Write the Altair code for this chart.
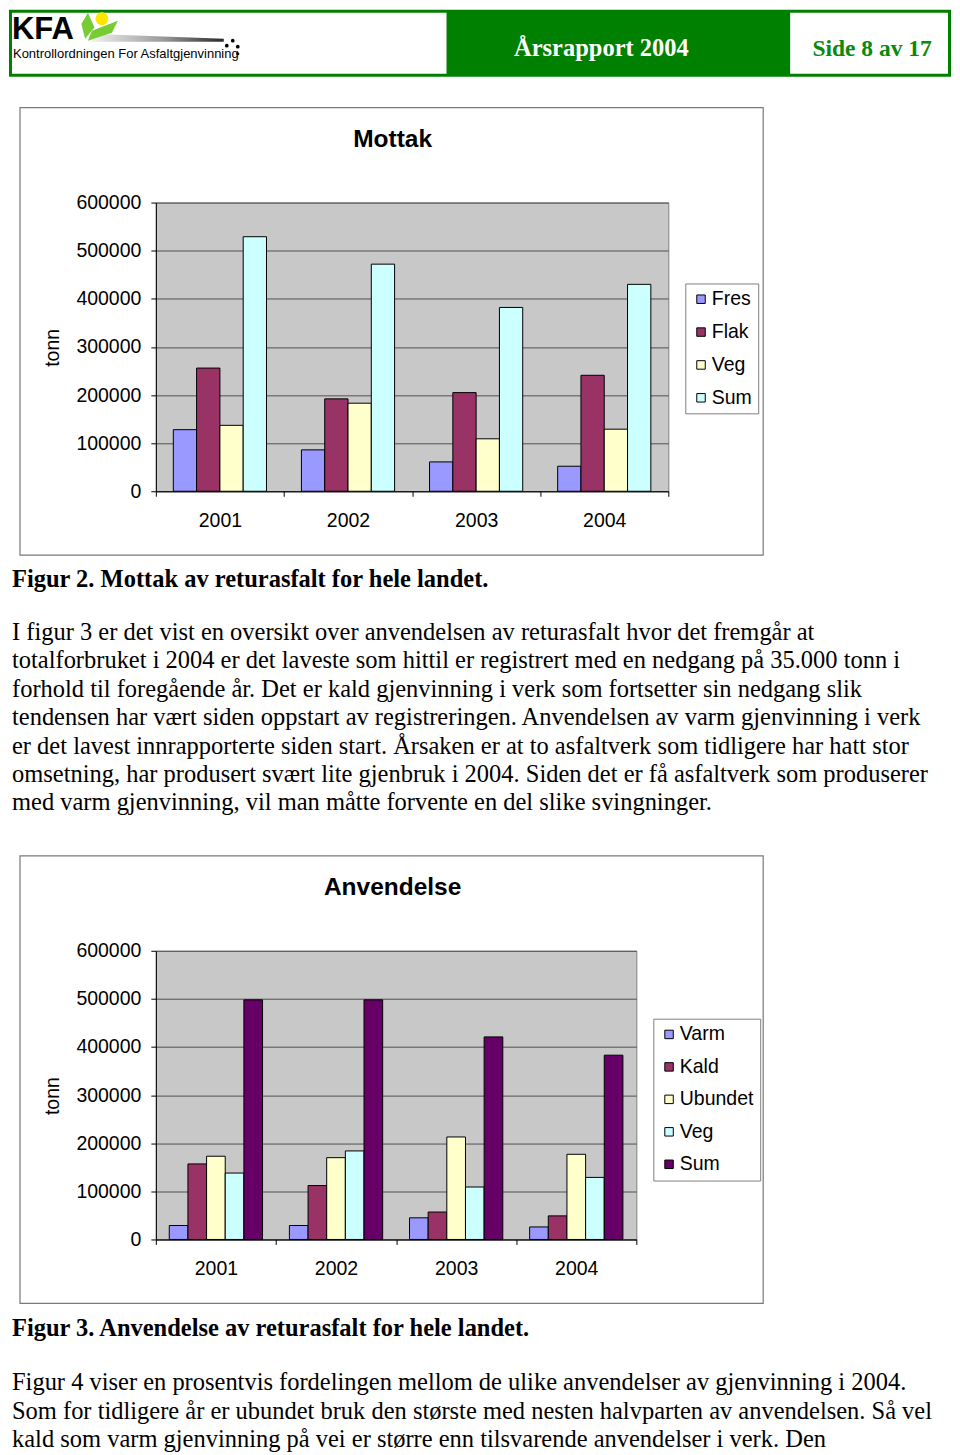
import altair as alt
import pandas as pd

# ---------------- data ----------------
YEARS = ["2001", "2002", "2003", "2004"]
Y_TICKS = [0, 100000, 200000, 300000, 400000, 500000, 600000]
Y_TITLE = "tonn"

MOTTAK_TITLE = "Mottak"
MOTTAK_SERIES = ["Fres", "Flak", "Veg", "Sum"]
MOTTAK_COLORS = ["#9999FF", "#993366", "#FFFFCC", "#CCFFFF"]
MOTTAK_FRES = [128000, 86000, 61000, 52000]
MOTTAK_FLAK = [256000, 192000, 205000, 241000]
MOTTAK_VEG = [137000, 183000, 109000, 129000]
MOTTAK_SUM = [529000, 472000, 382000, 430000]

ANV_TITLE = "Anvendelse"
ANV_SERIES = ["Varm", "Kald", "Ubundet", "Veg", "Sum"]
ANV_COLORS = ["#9999FF", "#993366", "#FFFFCC", "#CCFFFF", "#660066"]
ANV_VARM = [29000, 29000, 45000, 26000]
ANV_KALD = [157000, 112000, 57000, 49000]
ANV_UBUNDET = [173000, 170000, 213000, 177000]
ANV_VEG = [138000, 184000, 109000, 129000]
ANV_SUM = [498000, 498000, 421000, 383000]

HEADER_TITLE = "Årsrapport 2004"
HEADER_PAGE = "Side 8 av 17"
LOGO_MARK = "KFA"
LOGO_TEXT = "Kontrollordningen For Asfaltgjenvinning"

CAPTION_2 = "Figur 2. Mottak av returasfalt for hele landet."
PARA_1 = [
    "I figur 3 er det vist en oversikt over anvendelsen av returasfalt hvor det fremgår at",
    "totalforbruket i 2004 er det laveste som hittil er registrert med en nedgang på 35.000 tonn i",
    "forhold til foregående år. Det er kald gjenvinning i verk som fortsetter sin nedgang slik",
    "tendensen har vært siden oppstart av registreringen. Anvendelsen av varm gjenvinning i verk",
    "er det lavest innrapporterte siden start. Årsaken er at to asfaltverk som tidligere har hatt stor",
    "omsetning, har produsert svært lite gjenbruk i 2004. Siden det er få asfaltverk som produserer",
    "med varm gjenvinning, vil man måtte forvente en del slike svingninger.",
]
CAPTION_3 = "Figur 3. Anvendelse av returasfalt for hele landet."
PARA_2 = [
    "Figur 4 viser en prosentvis fordelingen mellom de ulike anvendelser av gjenvinning i 2004.",
    "Som for tidligere år er ubundet bruk den største med nesten halvparten av anvendelsen. Så vel",
    "kald som varm gjenvinning på vei er større enn tilsvarende anvendelser i verk. Den",
]

SANS = "Liberation Sans"
SERIF = "Liberation Serif"
GREEN = "#008000"


def long_frame(series, columns):
    rows = []
    for s, vals in zip(series, columns):
        for y, v in zip(YEARS, vals):
            rows.append({"year": y, "series": s, "value": v})
    return pd.DataFrame(rows)


MOTTAK_DF = long_frame(MOTTAK_SERIES, [MOTTAK_FRES, MOTTAK_FLAK, MOTTAK_VEG, MOTTAK_SUM])
ANV_DF = long_frame(ANV_SERIES, [ANV_VARM, ANV_KALD, ANV_UBUNDET, ANV_VEG, ANV_SUM])
ONE = pd.DataFrame({"k": [0]})


def txt(text, x, y, size, font, weight="normal", color="black", align="left",
        baseline="alphabetic", line_height=None):
    kw = dict(font=font, fontSize=size, fontWeight=weight, color=color,
              align=align, baseline=baseline)
    if line_height is not None:
        kw["lineHeight"] = line_height
    return alt.Chart(ONE).mark_text(**kw).encode(
        x=alt.value(x), y=alt.value(y), text=alt.value(text))


def rect(x, x2, y, y2, **mk):
    return alt.Chart(ONE).mark_rect(**mk).encode(
        x=alt.value(x), x2=alt.value(x2), y=alt.value(y), y2=alt.value(y2))


def sym(x, y, size, shape, **mk):
    return alt.Chart(ONE).mark_point(shape=shape, size=size, filled=True,
                                     opacity=1, strokeWidth=0, **mk).encode(
        x=alt.value(x), y=alt.value(y))


def bar_chart(df, series, colors, width, pad_outer, title, lx, ly,
              lab_off, row_pad):
    bars = alt.Chart(df).mark_bar(stroke="black", strokeWidth=1).encode(
        x=alt.X("year:N", sort=YEARS,
                scale=alt.Scale(paddingInner=0, paddingOuter=0),
                axis=alt.Axis(title=None, labelAngle=0, labelFont=SANS,
                              labelFontSize=19.5, labelColor="black",
                              labelPadding=15, tickBand="extent", tickSize=5,
                              tickColor="black", domainColor="black",
                              grid=False)),
        xOffset=alt.XOffset("series:N", sort=series,
                            scale=alt.Scale(paddingInner=0, paddingOuter=pad_outer)),
        y=alt.Y("value:Q", scale=alt.Scale(domain=[0, 600000], nice=False),
                axis=alt.Axis(values=Y_TICKS, format="d", title=Y_TITLE,
                              labelFont=SANS, labelFontSize=19.5,
                              labelColor="black", labelPadding=10, tickSize=5,
                              tickColor="black", domainColor="black",
                              gridColor="#505050", gridWidth=1,
                              titleFont=SANS, titleFontSize=19.5,
                              titleFontWeight="normal", titleColor="black",
                              titleAngle=270, titleX=-103, titleY=145,
                              titleAlign="center", titleBaseline="middle")),
        color=alt.Color("series:N", sort=series,
                        scale=alt.Scale(domain=series, range=colors),
                        legend=alt.Legend(title=None, orient="none",
                                          legendX=lx, legendY=ly,
                                          symbolType="square", symbolSize=72,
                                          symbolStrokeColor="black",
                                          symbolStrokeWidth=1,
                                          symbolOffset=0,
                                          labelOffset=lab_off,
                                          labelFont=SANS, labelFontSize=19.5,
                                          labelColor="black",
                                          rowPadding=row_pad, padding=6,
                                          strokeColor="#808080",
                                          fillColor="white")),
    )
    frame = rect(-136, 608, -95, 353, filled=False, stroke="#7a7a7a",
                 strokeWidth=1.2)
    ttl = txt(title, 237, -63, 24.5, SANS, weight="bold", align="center",
              baseline="middle")
    return frame, bars, ttl


# ---------------- section 1 (header, chart 1, text) ----------------
f1, b1, t1 = bar_chart(MOTTAK_DF, MOTTAK_SERIES, MOTTAK_COLORS, 513, 0.75,
                       MOTTAK_TITLE, 530, 81, 1, 11.9)

swoosh = alt.LinearGradient(
    gradient="linear", x1=0, x2=1, y1=0, y2=0,
    stops=[alt.GradientStop(offset=0, color="#f2f2f2"),
           alt.GradientStop(offset=0.55, color="#9a9a9a"),
           alt.GradientStop(offset=1, color="#2a2a2a")])

header = [
    rect(-147, 796, -193, -126, color=GREEN),
    rect(-144, 291, -190, -129, color="white"),
    rect(635, 793, -190, -129, color="white"),
    txt(HEADER_TITLE, 446, -154, 24.5, SERIF, weight="bold", color="white",
        align="center", baseline="middle"),
    txt(HEADER_PAGE, 717, -154, 23.5, SERIF, weight="bold", color="#0a8a0a",
        align="center", baseline="middle"),
    txt(LOGO_MARK, -144, -164, 31, SANS, weight="bold"),
    sym(1, -165, 17956, "M-1,-0.06L1,0.015L1,0.06L-1,0.06Z", color=swoosh),
    sym(-68, -177, 784, "M-0.2,0.93L-0.47,-0.13L0,-0.93L0.47,0.13Z",
        color="#77CC33"),
    sym(-53, -172, 1024, "M-0.94,0.63L-0.69,0L0.94,-0.63L0.56,0.13Z",
        color="#77CC33"),
    sym(-54, -184, 169, "circle", color="#FFE500"),
    sym(71, -157, 14, "circle", color="black"),
    sym(77, -162, 14, "circle", color="black"),
    sym(82, -156, 14, "circle", color="black"),
    sym(82, -149, 10, "circle", color="black"),
    txt(LOGO_TEXT, -143, -145, 13, SANS),
]

texts1 = [
    txt(CAPTION_2, -144, 384.7, 24.5, SERIF, weight="bold"),
    txt(PARA_1, -144, 438, 24.5, SERIF, line_height=28.4),
]

s1 = alt.layer(*header, f1, b1, t1, *texts1).properties(width=513, height=289)

# ---------------- section 2 (chart 2, text) ----------------
f2, b2, t2 = bar_chart(ANV_DF, ANV_SERIES, ANV_COLORS, 481, 0.72,
                       ANV_TITLE, 498, 68, 1, 11.5)
texts2 = [
    txt(CAPTION_3, -144, 385.7, 24.5, SERIF, weight="bold"),
    txt(PARA_2, -144, 440, 24.5, SERIF, line_height=28.4),
]
s2 = alt.layer(f2, b2, t2, *texts2).properties(width=481, height=289)

chart = (
    alt.vconcat(s1, s2, spacing=460, bounds="flush")
    .resolve_scale(x="independent", y="independent", color="independent",
                   xOffset="independent")
    .properties(padding=0, background="white")
    .configure_view(fill="#C8C8C8", stroke="#808080", strokeWidth=1)
)

chart.save("out.html", embed_options={"renderer": "svg", "actions": False})
